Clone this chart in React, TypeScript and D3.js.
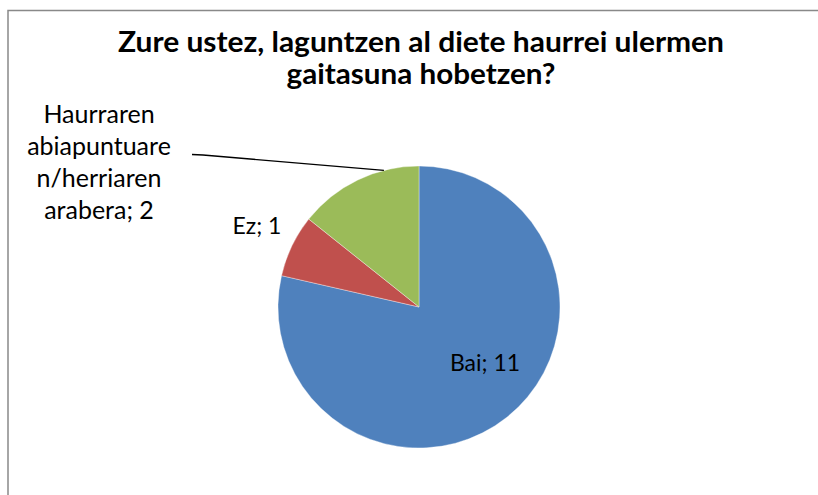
import React from "react";
import * as d3 from "d3";

const categories = ["Bai", "Ez", "Haurraren abiapuntuaren/herriaren arabera"];
const values = [11, 1, 2];
const colors = ["#4F81BD", "#C0504D", "#9BBB59"];
const titleLines = ["Zure ustez, laguntzen al diete haurrei ulermen", "gaitasuna hobetzen?"];
const labelLines = [["Bai; 11"], ["Ez; 1"], ["Haurraren", "abiapuntuare", "n/herriaren", "arabera; 2"]];

const W = 818, H = 495;
const cx = 419, cy = 307, R = 141;
const FONT = "Lato, 'Open Sans', sans-serif";

export default function App() {
  const data = categories.map((c, i) => ({ c, v: values[i] }));
  const pie = d3.pie<any>().value((d) => d.v).sort(null).startAngle(0).endAngle(2 * Math.PI);
  const arcs = pie(data);
  const arc = d3.arc<any>().innerRadius(0).outerRadius(R);
  const labelPos = [
    { x: 485, y: 365, size: 23 },
    { x: 257, y: 228, size: 23 },
    { x: 99, y: 117, size: 25 },
  ];
  const titleWidths = [606, 269];
  const a3 = arcs[2];
  const ang = a3.startAngle + (a3.endAngle - a3.startAngle) * 0.72;
  const edge = [cx + R * Math.sin(ang), cy - R * Math.cos(ang)];
  return (
    <div style={{ position: "absolute", left: 0, top: 0, width: W, height: H, overflow: "hidden" }}>
      <svg width={W} height={H} style={{ display: "block", background: "#fff" }}>
        <path d={`M8,${H + 5} L8,10.5 L${W + 5},10.5`} fill="none" stroke="#898989" strokeWidth={1.5} />
        {titleLines.map((t, i) => (
          <text key={i} x={421} y={45 + i * 31.5} textAnchor="middle" dominantBaseline="middle"
            fontFamily={FONT} fontWeight={700} fontSize={28.5} fill="#000"
            textLength={titleWidths[i]} lengthAdjust="spacingAndGlyphs">{t}</text>
        ))}
        <g transform={`translate(${cx},${cy})`}>
          {arcs.map((a, i) => (
            <path key={i} d={arc(a) as string} fill={colors[i]} stroke="#fff" strokeWidth={0.6} strokeOpacity={0.6} />
          ))}
        </g>
        <polyline points={`192,154.5 203,155 ${edge[0]},${edge[1]}`} fill="none" stroke="#000" strokeWidth={1.3} />
        {labelLines.map((lines, i) =>
          lines.map((l, j) => (
            <text key={`${i}-${j}`} x={labelPos[i].x} y={labelPos[i].y + j * 32} textAnchor="middle"
              dominantBaseline="middle" fontFamily={FONT} fontSize={labelPos[i].size} fill="#000">{l}</text>
          ))
        )}
      </svg>
    </div>
  );
}
